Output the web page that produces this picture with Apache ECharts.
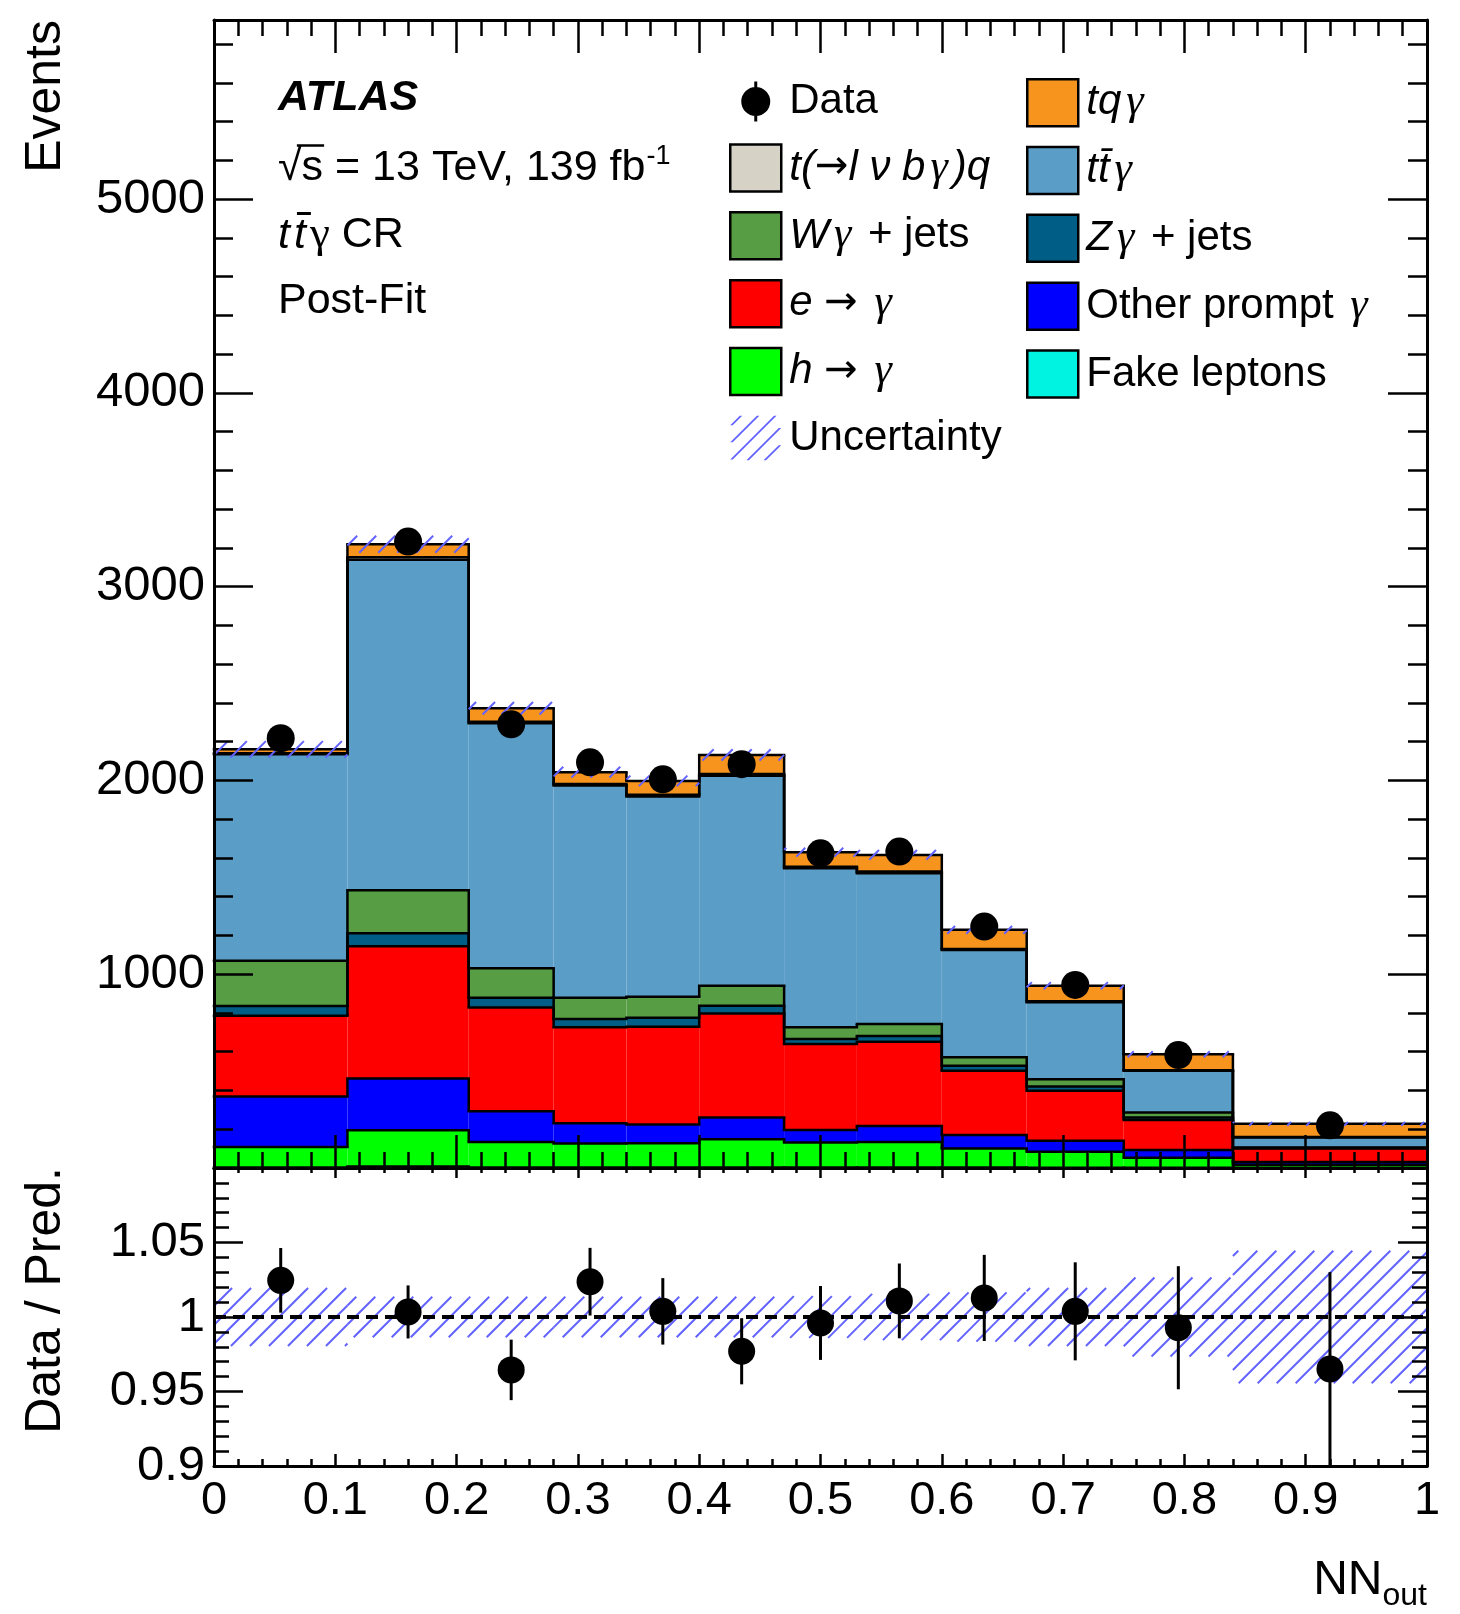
<!DOCTYPE html>
<html>
<head>
<meta charset="utf-8">
<script src="https://cdn.jsdelivr.net/npm/echarts@6/dist/echarts.min.js"></script>
<style>html,body{margin:0;padding:0;background:#fff}#c{width:1460px;height:1614px}</style>
</head>
<body>
<div id="c"></div>
<script>
// ---------------- DATA ----------------
const binEdges = [0, 0.11, 0.21, 0.28, 0.34, 0.40, 0.47, 0.53, 0.60, 0.67, 0.75, 0.84, 1.0];
// stacked backgrounds, bottom to top (events per bin)
const fakeLeptons = [3, 8, 3, 2, 2, 2, 2, 2, 2, 1, 1, 1];
const hToGamma    = [105, 187, 131, 125, 126, 146, 129, 132, 99, 83, 52, 16];
const otherPrompt = [261, 267, 159, 104, 97, 112, 65, 83, 69, 57, 40, 14];
const eToGamma    = [417, 682, 536, 495, 504, 538, 444, 435, 332, 258, 155, 70];
const zGammaJets  = [50, 68, 50, 43, 47, 40, 26, 29, 26, 21, 12, 2];
const wGammaJets  = [234, 221, 152, 110, 108, 103, 60, 62, 43, 38, 27, 3];
const ttGamma     = [1065, 1706, 1265, 1095, 1033, 1083, 821, 778, 554, 397, 215, 52];
const tLvbGammaQ  = [6, 13, 7, 8, 9, 10, 8, 9, 5, 5, 3, 2];
const tqGamma     = [20, 67, 70, 61, 72, 98, 75, 86, 99, 81, 82, 68];
const dataEvents  = [2218, 3233, 2290, 2094, 2006, 2084, 1624, 1633, 1246, 945, 583, 220];
const ratioValues = [1.0246, 1.0034, 0.9645, 1.0237, 1.0038, 0.977, 0.996, 1.0108, 1.0128, 1.0038, 0.9928, 0.9651];
const ratioErrors = [0.0217, 0.0178, 0.0203, 0.0227, 0.0223, 0.0222, 0.0248, 0.0251, 0.0289, 0.0329, 0.0413, 0.065];
const relUncertainty = [0.0195, 0.0136, 0.0136, 0.0136, 0.0136, 0.0136, 0.014, 0.0155, 0.0165, 0.0195, 0.0265, 0.0445];
const mainYTickLabels = [1000, 2000, 3000, 4000, 5000];
const ratioYTickLabels = ['0.9', '0.95', '1', '1.05'];
const xTickLabels = ['0', '0.1', '0.2', '0.3', '0.4', '0.5', '0.6', '0.7', '0.8', '0.9', '1'];
const ratioReference = 1;

// ---------------- STYLE ----------------
const FONT = '"Liberation Sans", Arial, Helvetica, sans-serif';
const SERIF = '"Liberation Serif", "Times New Roman", serif';
const hatchColor = '#6262ff';
const comps = [
  { key: 'fake',  values: fakeLeptons, color: '#00f2e0' },
  { key: 'h',     values: hToGamma,    color: '#00ff00' },
  { key: 'other', values: otherPrompt, color: '#0000ff' },
  { key: 'e',     values: eToGamma,    color: '#ff0000' },
  { key: 'Z',     values: zGammaJets,  color: '#005e86' },
  { key: 'W',     values: wGammaJets,  color: '#569d43' },
  { key: 'tt',    values: ttGamma,     color: '#5a9dc7' },
  { key: 'tlvbq', values: tLvbGammaQ,  color: '#d6d3c6' },
  { key: 'tq',    values: tqGamma,     color: '#f7941e' }
];
const nb = binEdges.length - 1;
const centers = binEdges.slice(0, -1).map((e, i) => (e + binEdges[i + 1]) / 2);
const cumBelow = [];
let run = new Array(nb).fill(0);
comps.forEach(c => { cumBelow.push(run.slice()); run = run.map((r, i) => r + c.values[i]); });
const totals = run;

const mctx = document.createElement('canvas').getContext('2d');
function measure(t, fs, style, weight, fam) {
  mctx.font = `${style || 'normal'} ${weight || 'normal'} ${fs}px ${fam || FONT}`;
  return mctx.measureText(t).width;
}

function hatch(x0, y0, x1, y1, sp) {
  const out = [];
  if (y1 < y0) { const t = y0; y0 = y1; y1 = t; }
  const cMin = x0 + y0, cMax = x1 + y1;
  for (let c = Math.ceil(cMin / sp) * sp; c <= cMax; c += sp) {
    const xa = Math.max(x0, c - y1), xb = Math.min(x1, c - y0);
    if (xb > xa + 0.5) out.push({ type: 'line', z2: 30, shape: { x1: xa, y1: c - xa, x2: xb, y2: c - xb }, style: { stroke: hatchColor, lineWidth: 2 } });
  }
  return out;
}

function stackSeries(k) {
  const c = comps[k];
  return {
    type: 'custom', name: c.key, xAxisIndex: 0, yAxisIndex: 0, z: 2, silent: true,
    itemStyle: { color: c.color },
    dimensions: ['x', 'y', 'bin'],
    encode: { x: 0, y: 1 },
    data: c.values.map((v, i) => [centers[i], cumBelow[k][i] + v, i]),
    renderItem: (params, api) => {
      const i = api.value(2);
      const lo = cumBelow[k][i], hi = lo + c.values[i];
      const tl = api.coord([binEdges[i], hi]);
      const br = api.coord([binEdges[i + 1], lo]);
      const ch = [{ type: 'rect', z2: 1, shape: { x: tl[0], y: tl[1], width: br[0] - tl[0], height: br[1] - tl[1] }, style: { fill: c.color } }];
      ch.push({ type: 'line', z2: 10, shape: { x1: tl[0], y1: tl[1], x2: br[0], y2: tl[1] }, style: { stroke: '#000', lineWidth: 2.5, lineCap: 'square' } });
      if (i > 0) {
        const prevHi = cumBelow[k][i - 1] + c.values[i - 1];
        const q = api.coord([binEdges[i], prevHi]);
        ch.push({ type: 'line', z2: 10, shape: { x1: tl[0], y1: q[1], x2: tl[0], y2: tl[1] }, style: { stroke: '#000', lineWidth: 2.5 } });
      }
      return { type: 'group', children: ch };
    }
  };
}

// legend icons
function dataIconPath() {
  return 'path://M0,0L0.01,0L0,0.01Z M51,47L50.99,47L51,46.99Z ' +
    'M24,3.5H27V43.5H24Z M11,23.5A14.5,14.5 0 1,1 40,23.5A14.5,14.5 0 1,1 11,23.5Z';
}
function hatchIconPath() {
  let p = 'path://M0,0L0.01,0L0,0.01Z M51,47L50.99,47L51,46.99Z';
  const w = 51, h = 47, sp = 18, hw = 1.3;
  for (let c = 10; c < w + h; c += sp) {
    const xa = Math.max(0, c - h), xb = Math.min(w, c);
    if (xb - xa < 3) continue;
    p += ` M${(xa - hw).toFixed(2)},${(c - xa).toFixed(2)} L${(xa + hw).toFixed(2)},${(c - xa).toFixed(2)} L${(xb + hw).toFixed(2)},${(c - xb).toFixed(2)} L${(xb - hw).toFixed(2)},${(c - xb).toFixed(2)} Z`;
  }
  return p;
}

const legendLabels = {
  data: 'Data',
  tq: '{i|tq}{g|γ}',
  tlvbq: '{i|t(}{a|→}{i|l ν b}{g|γ}{i|)q}',
  tt: '{i|tt\u0304}{g|γ}',
  W: '{i|W}{g|γ} + jets',
  Z: '{i|Z}{g|γ} + jets',
  e: '{i|e} {a|→} {g|γ}',
  other: 'Other prompt {g|γ}',
  h: '{i|h} {a|→} {g|γ}',
  fake: 'Fake leptons',
  unc: 'Uncertainty'
};
const boxItem = name => ({ name, icon: 'rect', itemStyle: { borderColor: '#000', borderWidth: 2.5 } });
const legendText = {
  color: '#000', fontSize: 42, fontFamily: FONT, lineHeight: 47, padding: [0, 0, 0, 3],
  rich: {
    i: { fontStyle: 'italic', fontSize: 42, fontFamily: FONT, lineHeight: 47 },
    g: { fontStyle: 'italic', fontSize: 44, fontFamily: SERIF, lineHeight: 47, padding: [0, 5, 0, 5] },
    a: { fontSize: 40, fontFamily: '"DejaVu Sans", sans-serif', lineHeight: 47 }
  }
};
const legendCommon = {
  orient: 'vertical', top: 78, itemWidth: 51, itemHeight: 47, itemGap: 18.3, padding: 0,
  selectedMode: false, align: 'left', formatter: n => legendLabels[n], textStyle: legendText
};

// ---------------- TEXT GRAPHICS ----------------
const g = [];
const BSHIFT = 3.5;
function addText(txt, x, baseline, fs, style, weight, align, fam) {
  g.push({ type: 'text', x, y: baseline + BSHIFT - 0.3465 * fs, z: 50,
    style: { text: txt, fontSize: fs, fontFamily: fam || FONT, fontStyle: style || 'normal', fontWeight: weight || 'normal', fill: '#000', align: align || 'left', verticalAlign: 'middle' } });
  return measure(txt, fs, style, weight, fam);
}
function addLine(x1, y1, x2, y2, w) {
  g.push({ type: 'line', z: 50, shape: { x1, y1: y1 + BSHIFT, x2, y2: y2 + BSHIFT }, style: { stroke: '#000', lineWidth: w || 2.5 } });
}
const TX = 278;
addText('ATLAS', TX, 110, 43, 'italic', 'bold');
{
  const main = '√s = 13 TeV, 139 fb';
  const w = addText(main, TX, 180, 43);
  addText('-1', TX + w + 1, 162, 27);
  const wr = measure('√', 43), ws = measure('√s', 43);
  addLine(TX + wr * 0.8, 142, TX + ws + 1, 142, 2.5);
}
{
  let x = TX;
  x += addText('t', x, 247, 43, 'italic') + 4;
  const w2 = addText('t', x, 247, 43, 'italic');
  addLine(x + 3, 210, x + w2 + 5, 210, 3);
  x += w2 + 4;
  x += addText('γ', x, 247, 45, 'normal', 'normal', 'left', SERIF);
  addText(' CR', x, 247, 43);
}
addText('Post-Fit', TX, 313, 43);
// axis titles
g.push({ type: 'text', x: 46, y: 20, rotation: Math.PI / 2, z: 50,
  style: { text: 'Events', fontSize: 50, fontFamily: FONT, fill: '#000', align: 'right', verticalAlign: 'middle' } });
g.push({ type: 'text', x: 46, y: 1167, rotation: Math.PI / 2, z: 50,
  style: { text: 'Data / Pred.', fontSize: 50, fontFamily: FONT, fill: '#000', align: 'right', verticalAlign: 'middle' } });
{
  const wOut = measure('out', 32);
  addText('out', 1427, 1604, 32, 'normal', 'normal', 'right');
  addText('NN', 1427 - wOut, 1594, 48, 'normal', 'normal', 'right');
}

// ---------------- AXES ----------------
const L = 214, W = 1213, T0 = 20, H0 = 1148, T1 = 1168, H1 = 298;
const lineSt = { color: '#000', width: 3 };
const tickSt = { color: '#000', width: 2.5 };
function xAx(grid, pos, major, minor, labels) {
  return {
    type: 'value', gridIndex: grid, position: pos, min: 0, max: 1, interval: 0.1, z: 4,
    axisLine: { show: true, onZero: false, lineStyle: lineSt },
    axisTick: { show: true, inside: true, length: major, lineStyle: tickSt },
    minorTick: { show: true, splitNumber: 5, length: minor, lineStyle: tickSt },
    splitLine: { show: false }, minorSplitLine: { show: false },
    axisLabel: labels ? {
      show: true, margin: 12, fontSize: 47, fontFamily: FONT, color: '#000',
      formatter: v => { const k = Math.round(v * 10); return xTickLabels[k] !== undefined ? xTickLabels[k] : ''; },
      showMinLabel: true, showMaxLabel: true
    } : { show: false }
  };
}
function yMain(pos, interval, len, showLine, labels) {
  return {
    type: 'value', gridIndex: 0, position: pos, min: 0, max: 5925, interval, z: 4,
    axisLine: { show: showLine, onZero: false, lineStyle: lineSt },
    axisTick: { show: true, inside: true, length: len, lineStyle: tickSt },
    splitLine: { show: false },
    axisLabel: labels ? {
      show: true, margin: 9, fontSize: 49, fontFamily: FONT, color: '#000',
      formatter: v => mainYTickLabels.indexOf(Math.round(v)) >= 0 && Math.abs(v - Math.round(v)) < 1e-6 ? String(Math.round(v)) : ''
    } : { show: false }
  };
}
function yRatio(pos, labels) {
  return {
    type: 'value', gridIndex: 1, position: pos, min: 0.9, max: 1.1, interval: 0.05, z: 4,
    axisLine: { show: true, onZero: false, lineStyle: lineSt },
    axisTick: { show: true, inside: true, length: 29, lineStyle: tickSt },
    minorTick: { show: true, splitNumber: 5, length: 15, lineStyle: tickSt },
    splitLine: { show: false }, minorSplitLine: { show: false },
    axisLabel: labels ? {
      show: true, margin: 9, fontSize: 49, fontFamily: FONT, color: '#000',
      formatter: v => { const s = String(Math.round(v * 100) / 100); return ratioYTickLabels.indexOf(s) >= 0 ? s : ''; }
    } : { show: false }
  };
}

// ---------------- SERIES ----------------
const series = comps.map((c, k) => stackSeries(k));
series.push({
  type: 'custom', name: 'unc', xAxisIndex: 0, yAxisIndex: 0, z: 3, silent: true,
  itemStyle: { color: hatchColor },
  dimensions: ['x', 'y', 'bin'], encode: { x: 0, y: 1 },
  data: totals.map((t, i) => [centers[i], t, i]),
  renderItem: (p, api) => {
    const i = api.value(2), t = totals[i];
    const a = api.coord([binEdges[i], t * (1 + relUncertainty[i])]);
    const b = api.coord([binEdges[i + 1], t * (1 - relUncertainty[i])]);
    return { type: 'group', children: hatch(a[0], a[1], b[0], b[1], 19) };
  }
});
series.push({
  type: 'scatter', name: 'data', xAxisIndex: 0, yAxisIndex: 0, z: 5, silent: true,
  symbol: 'circle', symbolSize: 28, itemStyle: { color: '#000', opacity: 1 },
  data: dataEvents.map((v, i) => [centers[i], v])
});
// ratio panel
series.push({
  type: 'custom', name: 'ratioBand', xAxisIndex: 2, yAxisIndex: 4, z: 2, silent: true, clip: true,
  itemStyle: { color: hatchColor },
  dimensions: ['x', 'y', 'bin'], encode: { x: 0, y: 1 },
  data: relUncertainty.map((u, i) => [centers[i], ratioReference, i]),
  renderItem: (p, api) => {
    const i = api.value(2);
    const a = api.coord([binEdges[i], ratioReference + relUncertainty[i]]);
    const b = api.coord([binEdges[i + 1], ratioReference - relUncertainty[i]]);
    return { type: 'group', children: hatch(a[0], a[1], b[0], b[1], 19) };
  }
});
series.push({
  type: 'line', name: 'refLine', xAxisIndex: 2, yAxisIndex: 4, z: 3, silent: true,
  symbol: 'none', lineStyle: { color: '#000', width: 4, type: [12, 7] },
  data: [[0, ratioReference], [1, ratioReference]]
});
series.push({
  type: 'custom', name: 'ratioErr', xAxisIndex: 2, yAxisIndex: 4, z: 4, silent: true, clip: true,
  dimensions: ['x', 'y', 'bin'], encode: { x: 0, y: 1 },
  data: ratioValues.map((r, i) => [centers[i], r, i]),
  renderItem: (p, api) => {
    const i = api.value(2);
    const a = api.coord([centers[i], ratioValues[i] + ratioErrors[i]]);
    const b = api.coord([centers[i], ratioValues[i] - ratioErrors[i]]);
    return { type: 'line', shape: { x1: a[0], y1: a[1], x2: b[0], y2: b[1] }, style: { stroke: '#000', lineWidth: 3 } };
  }
});
series.push({
  type: 'scatter', name: 'ratio', xAxisIndex: 2, yAxisIndex: 4, z: 5, silent: true,
  symbol: 'circle', symbolSize: 27, itemStyle: { color: '#000', opacity: 1 },
  data: ratioValues.map((r, i) => [centers[i], r])
});

const option = {
  animation: false,
  backgroundColor: '#fff',
  textStyle: { fontFamily: FONT },
  grid: [
    { left: L, top: T0, width: W, height: H0, containLabel: false },
    { left: L, top: T1, width: W, height: H1, containLabel: false }
  ],
  xAxis: [
    xAx(0, 'bottom', 33, 16, false),
    xAx(0, 'top', 33, 16, false),
    xAx(1, 'bottom', 12, 7, true),
    xAx(1, 'top', 10, 5, false)
  ],
  yAxis: [
    yMain('left', 1000, 39, true, true),
    yMain('left', 200, 19, false, false),
    yMain('right', 1000, 39, true, false),
    yMain('right', 200, 19, false, false),
    yRatio('left', true),
    yRatio('right', false)
  ],
  legend: [
    Object.assign({}, legendCommon, { left: 729, data: [
      { name: 'data', icon: dataIconPath() }, boxItem('tlvbq'), boxItem('W'), boxItem('e'), boxItem('h'),
      { name: 'unc', icon: hatchIconPath() }
    ] }),
    Object.assign({}, legendCommon, { left: 1026, data: [
      boxItem('tq'), boxItem('tt'), boxItem('Z'), boxItem('other'), boxItem('fake')
    ] })
  ],
  graphic: g,
  series
};

const chart = echarts.init(document.getElementById('c'), null, { renderer: 'canvas', width: 1460, height: 1614 });
chart.setOption(option);
</script>
</body>
</html>
